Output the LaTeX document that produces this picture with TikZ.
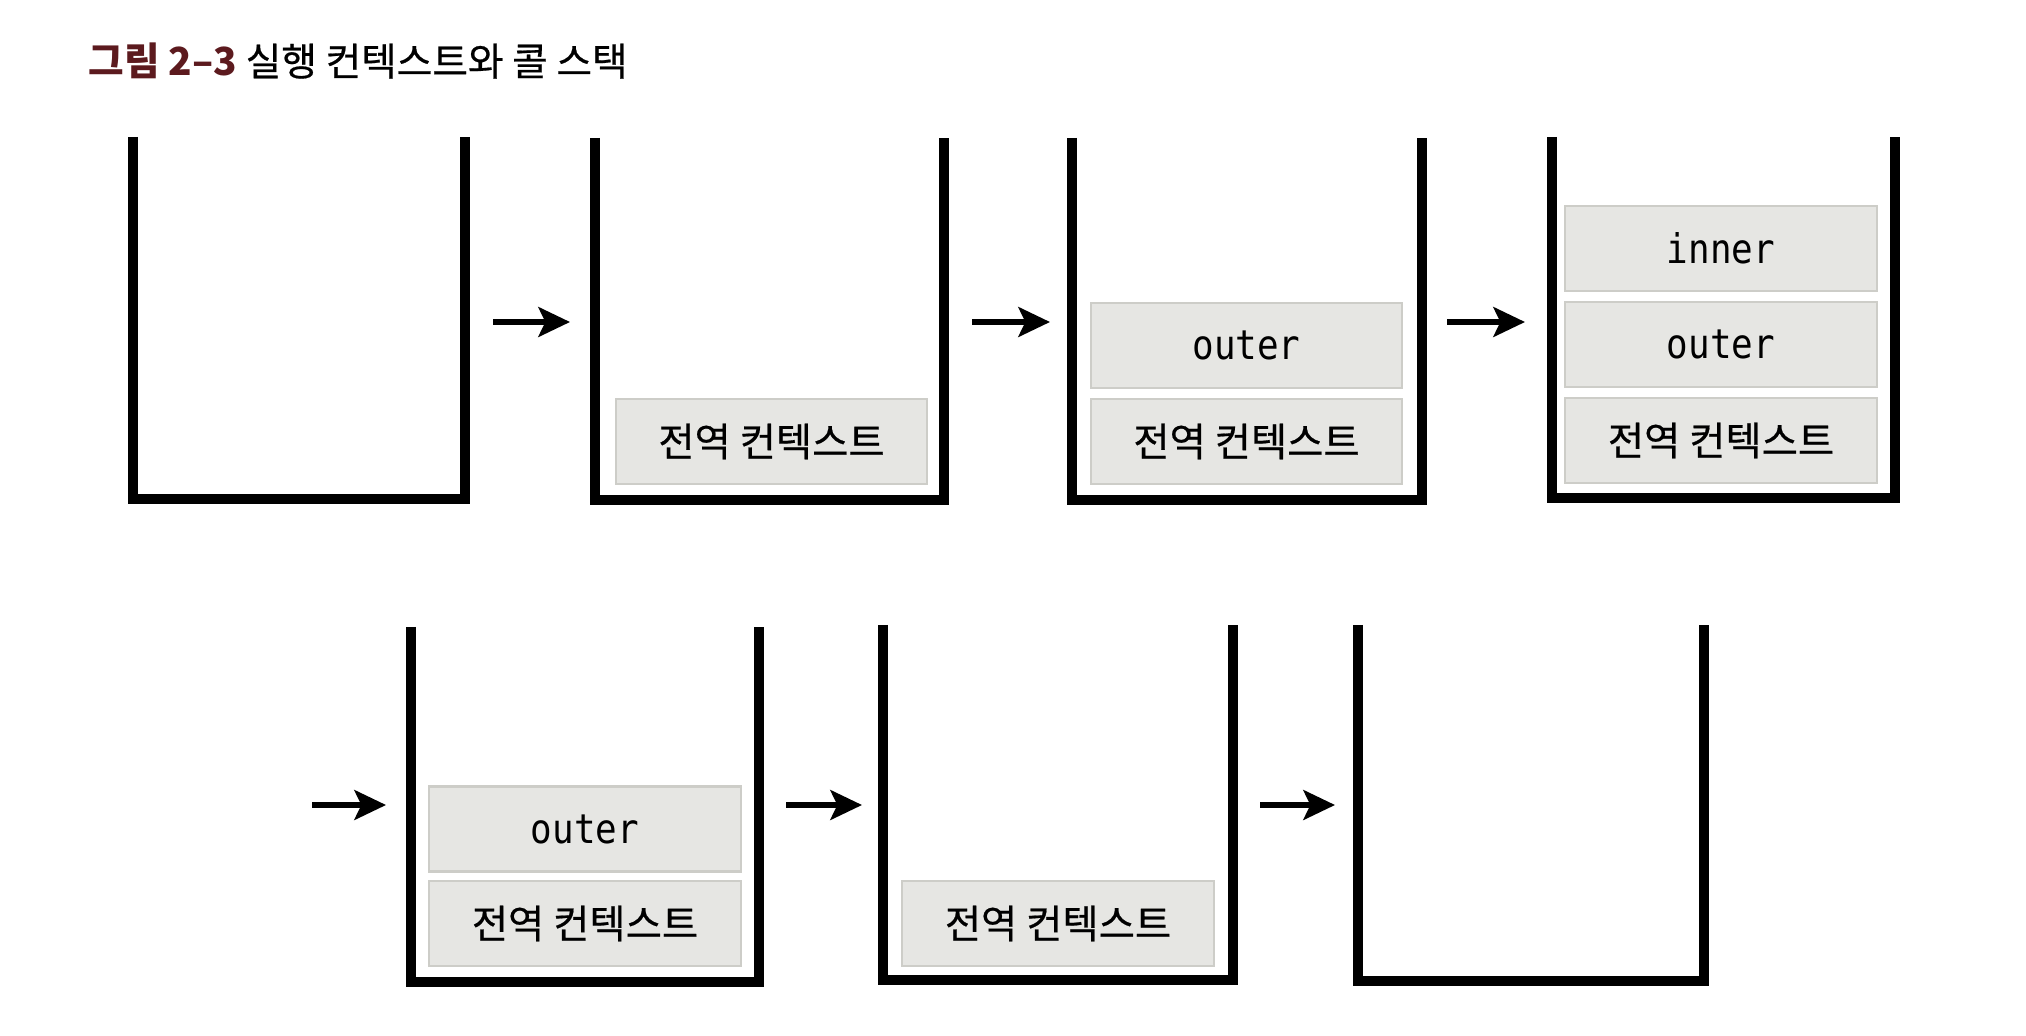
\documentclass[tikz,border=0pt]{standalone}
\usepackage{fontspec}
\newfontfamily\kr{Noto Sans CJK KR}
\newfontfamily\krm{Noto Sans CJK KR}[FakeBold=0.5]
\newfontfamily\mono{DejaVu Sans Mono}[FakeStretch=0.88]
\usetikzlibrary{arrows.meta}
\definecolor{boxfill}{RGB}{230,230,227}
\definecolor{boxline}{RGB}{205,205,200}
\definecolor{titlered}{RGB}{92,26,30}
\tikzset{
  wall/.style={line width=2.9pt, line join=miter, line cap=butt, black},
  frame/.style={inner sep=0pt, outer sep=0pt, draw=none},
  ctx/.style={draw=boxline, fill=boxfill, line width=0.6pt, inner sep=0pt,
    minimum width=3.11cm, minimum height=0.85cm, font=\krm\fontsize{11.2pt}{13pt}\selectfont},
  fn/.style={ctx, font=\mono\fontsize{11.6pt}{13pt}\selectfont},
  flow/.style={line width=1.5pt, -{Stealth[length=9pt, width=8.5pt, inset=2pt]}}
}
\newcommand{\stackwall}[1]{\draw[wall] (#1.north west) -- (#1.south west) -- (#1.south east) -- (#1.north east);}
\begin{document}
\begin{tikzpicture}[x=0.01cm, y=-0.01cm]
\useasboundingbox[fill=white] (0,0) rectangle (2026,1036);
% title
\node[anchor=west, inner sep=0pt, font=\krm\fontsize{11pt}{13pt}\selectfont] (title) at (88,61)
  {{\kr\bfseries\color{titlered}그림 2–3} 실행 컨텍스트와 콜 스택};
% containers (line centres)
\node[frame, minimum width=3.32cm, minimum height=3.62cm] (c1) at (299,318) {};
\node[frame, minimum width=3.49cm, minimum height=3.62cm] (c2) at (769.5,319) {};
\node[frame, minimum width=3.50cm, minimum height=3.62cm] (c3) at (1247,319) {};
\node[frame, minimum width=3.43cm, minimum height=3.61cm] (c4) at (1723.5,317.5) {};
\node[frame, minimum width=3.48cm, minimum height=3.55cm] (c5) at (585,804.5) {};
\node[frame, minimum width=3.50cm, minimum height=3.55cm] (c6) at (1058,802.5) {};
\node[frame, minimum width=3.46cm, minimum height=3.56cm] (c7) at (1531,803) {};
\foreach \c in {c1,c2,c3,c4,c5,c6,c7} {\stackwall{\c}}
% frames
\node[ctx] (c2g) at (771.5,441.5) {전역 컨텍스트};
\node[fn] (c3o) at (1246.5,345.5) {outer};
\node[ctx] (c3g) at (1246.5,441.5) {전역 컨텍스트};
\node[fn] (c4i) at (1721,248.5) {inner};
\node[fn] (c4o) at (1721,344.5) {outer};
\node[ctx] (c4g) at (1721,440.5) {전역 컨텍스트};
\node[fn] (c5o) at (585,829) {outer};
\node[ctx] (c5g) at (585,923.5) {전역 컨텍스트};
\node[ctx] (c6g) at (1058,923.5) {전역 컨텍스트};
% arrow ends
\coordinate (a1s) at (493,322); \coordinate (a1e) at (570,322);
\coordinate (a2s) at (972,322); \coordinate (a2e) at (1050,322);
\coordinate (a3s) at (1447,322); \coordinate (a3e) at (1525,322);
\coordinate (a4s) at (312,805); \coordinate (a4e) at (386,805);
\coordinate (a5s) at (786,805); \coordinate (a5e) at (862,805);
\coordinate (a6s) at (1260,805); \coordinate (a6e) at (1335,805);
\foreach \i in {1,...,6} {\draw[flow] (a\i s) -- (a\i e);}
\end{tikzpicture}
\end{document}
